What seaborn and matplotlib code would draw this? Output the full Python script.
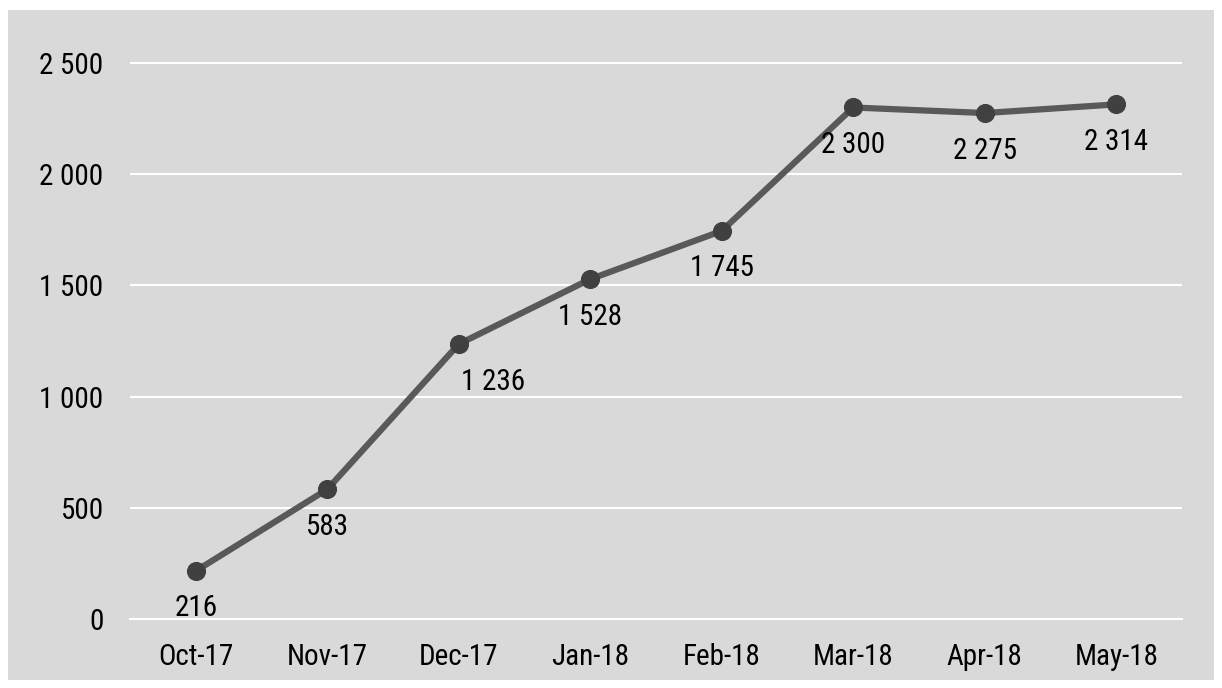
import matplotlib
matplotlib.use("Agg")
import matplotlib.pyplot as plt
import seaborn as sns
import pandas as pd
from matplotlib.patches import Rectangle
from matplotlib.ticker import FuncFormatter, FixedLocator

months = ['Oct-17', 'Nov-17', 'Dec-17', 'Jan-18', 'Feb-18', 'Mar-18', 'Apr-18', 'May-18']
values = [216, 583, 1236, 1528, 1745, 2300, 2275, 2314]
yticks = [0, 500, 1000, 1500, 2000, 2500]
# Excel nudged the Dec-17 label to the right, the rest sit right under the point
label_dx = [0, 0, 25, 0, 0, 0, 0, 0]

grey = '#d9d9d9'
sns.set_style('white')
plt.rcParams['font.family'] = ['Liberation Sans Narrow', 'Arial Narrow', 'Roboto Condensed',
                               'Archivo Narrow', 'DejaVu Sans']

df = pd.DataFrame({'month': months, 'value': values})
df['pos'] = range(len(months))

fig = plt.figure(figsize=(12.22, 6.88), dpi=100, facecolor='white')
# grey chart area behind the axes
fig.patches.append(Rectangle((8 / 1222, 8 / 688), 1206 / 1222, 670 / 688,
                             transform=fig.transFigure, facecolor=grey,
                             edgecolor='none', zorder=-10))
ax = fig.add_axes([130 / 1222, (688 - 619) / 688, 1052 / 1222, (619 - 45) / 688])
ax.set_facecolor(grey)

sns.lineplot(data=df, x='pos', y='value', ax=ax, color='#595959', linewidth=4.5,
             marker='o', markersize=13, markerfacecolor='#404040',
             markeredgecolor='#404040', zorder=3)

for x, v, dx in zip(df['pos'], df['value'], label_dx):
    ax.annotate(f'{v:,}'.replace(',', ' '), (x, v), xytext=(dx, -27),
                textcoords='offset points', ha='center', va='center',
                fontsize=21, color='black', zorder=4)

ax.set_xlim(-0.5, len(months) - 0.5)
ax.set_ylim(0, 2500 * (619 - 45) / (619 - 63))
ax.set_yticks(yticks)
ax.yaxis.set_major_formatter(FuncFormatter(lambda v, p: f'{int(v):,}'.replace(',', ' ')))
ax.set_xticks(df['pos'])
ax.set_xticklabels(months)
ax.xaxis.set_minor_locator(FixedLocator([i - 0.5 for i in range(len(months) + 1)]))
ax.tick_params(axis='x', which='major', length=0, pad=17, labelsize=21, labelcolor='black')
ax.tick_params(axis='x', which='minor', length=9, width=1.5, color='white', direction='out')
ax.tick_params(axis='y', length=0, pad=19, labelsize=21, labelcolor='black')

ax.grid(axis='y', color='white', linewidth=1.5)
ax.set_axisbelow(True)
for s in ['left', 'right', 'top']:
    ax.spines[s].set_visible(False)
ax.spines['bottom'].set_color('white')
ax.spines['bottom'].set_linewidth(1.5)
ax.set_xlabel('')
ax.set_ylabel('')

fig.savefig('out.png', dpi=100, facecolor='white')
